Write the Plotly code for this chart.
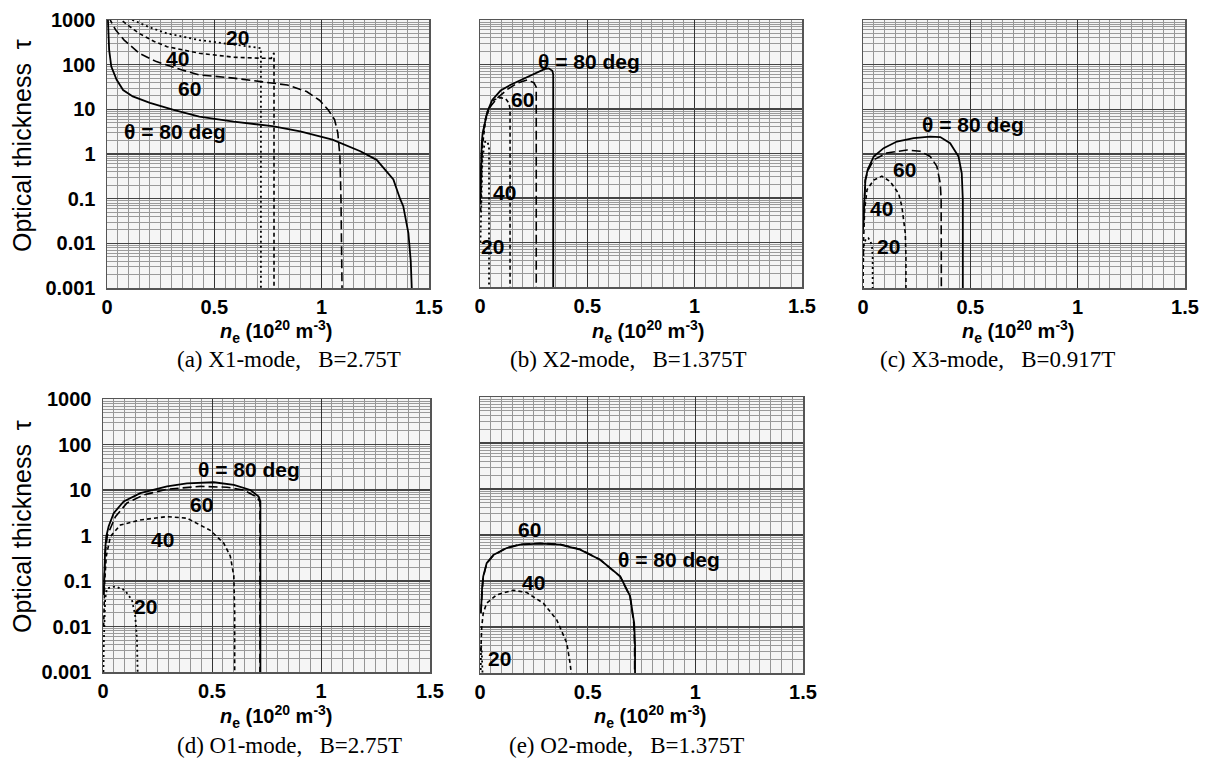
import math
import plotly.graph_objects as go

W, H = 1210, 760

# ---------------- data ----------------
# (a) X1-mode
a80_x = [0.003, 0.005, 0.01, 0.02, 0.045, 0.075, 0.12, 0.2, 0.31, 0.43, 0.59, 0.77, 0.9, 1.05, 1.18, 1.256, 1.334, 1.365, 1.38, 1.404, 1.415, 1.42]
a80_y = [1500, 1000, 215, 91, 46, 27, 19.5, 14, 9.7, 6.9, 5.3, 4.2, 3.2, 2.1, 1.15, 0.74, 0.27, 0.1, 0.068, 0.017, 0.004, 0.0009]
a60_x = [0.012, 0.015, 0.04, 0.08, 0.15, 0.23, 0.35, 0.43, 0.59, 0.74, 0.84, 0.93, 0.99, 1.03, 1.06, 1.075, 1.085, 1.09, 1.095]
a60_y = [1300, 1000, 600, 355, 180, 117, 76, 59, 50, 40, 35, 25, 16, 9.8, 5.9, 3.0, 0.9, 0.095, 0.0009]
a40_x = [0.06, 0.067, 0.1, 0.15, 0.22, 0.28, 0.43, 0.59, 0.7, 0.765, 0.778, 0.778]
a40_y = [1300, 1000, 750, 500, 330, 253, 180, 147, 140, 138, 185, 0.0009]
a20_x = [0.11, 0.12, 0.2, 0.28, 0.43, 0.59, 0.68, 0.712, 0.717, 0.717]
a20_y = [1300, 1000, 680, 500, 355, 277, 245, 235, 235, 0.0009]

# (b) X2-mode
b80_x = [0.0, 0.003, 0.005, 0.008, 0.012, 0.019, 0.034, 0.057, 0.096, 0.143, 0.22, 0.267, 0.3, 0.32, 0.337, 0.341, 0.341]
b80_y = [0.077, 0.3, 0.8, 1.7, 2.8, 4.1, 8.7, 16, 26, 35, 52, 66, 79, 82, 72, 60, 0.0009]
b60_x = [0.002, 0.005, 0.008, 0.015, 0.025, 0.042, 0.08, 0.127, 0.174, 0.22, 0.251, 0.262, 0.262]
b60_y = [0.1, 0.5, 1.2, 3.0, 6.0, 10.5, 17.5, 27.5, 38, 45, 39, 31, 0.0009]
b40_x = [0.003, 0.006, 0.011, 0.026, 0.042, 0.065, 0.096, 0.12, 0.135, 0.14, 0.14]
b40_y = [0.05, 0.3, 1.4, 5.7, 10, 16, 18, 17, 13.5, 10, 0.0009]
b20_x = [0.002, 0.005, 0.011, 0.022, 0.034, 0.042, 0.042]
b20_y = [0.01, 0.09, 0.72, 1.8, 1.9, 1.4, 0.0009]

# (c) X3-mode
c80_x = [0.0, 0.005, 0.011, 0.022, 0.05, 0.096, 0.158, 0.236, 0.313, 0.36, 0.406, 0.445, 0.46, 0.465, 0.465]
c80_y = [0.02, 0.08, 0.26, 0.45, 0.88, 1.35, 1.9, 2.26, 2.45, 2.4, 1.74, 0.88, 0.37, 0.095, 0.0009]
c60_x = [0.002, 0.011, 0.025, 0.05, 0.11, 0.205, 0.267, 0.313, 0.344, 0.36, 0.364, 0.365]
c60_y = [0.03, 0.26, 0.45, 0.74, 1.05, 1.23, 1.15, 0.88, 0.53, 0.22, 0.095, 0.0009]
c40_x = [0.0, 0.002, 0.008, 0.019, 0.05, 0.088, 0.127, 0.166, 0.181, 0.197, 0.2, 0.2]
c40_y = [0.0009, 0.01, 0.06, 0.16, 0.26, 0.32, 0.24, 0.13, 0.067, 0.017, 0.005, 0.0009]
c20_x = [0.001, 0.005, 0.015, 0.025, 0.035, 0.042, 0.045, 0.045]
c20_y = [0.004, 0.01, 0.013, 0.013, 0.011, 0.0085, 0.005, 0.0009]

# (d) O1-mode
d80_x = [0.003, 0.005, 0.01, 0.015, 0.026, 0.049, 0.095, 0.171, 0.294, 0.385, 0.508, 0.6, 0.676, 0.714, 0.722, 0.722]
d80_y = [0.05, 0.1, 0.5, 0.95, 1.6, 3.1, 5.6, 8.5, 12, 14, 14.8, 13, 10, 7.2, 5.6, 0.0009]
d60_x = [0.004, 0.01, 0.02, 0.057, 0.11, 0.187, 0.294, 0.447, 0.569, 0.645, 0.706, 0.72, 0.72]
d60_y = [0.05, 0.4, 1.0, 2.6, 5.2, 7.8, 10.4, 12, 11.5, 10, 7, 5.5, 0.0009]
d40_x = [0.003, 0.008, 0.015, 0.034, 0.08, 0.171, 0.294, 0.385, 0.492, 0.554, 0.584, 0.6, 0.604, 0.604]
d40_y = [0.01, 0.1, 0.35, 0.95, 1.7, 2.2, 2.6, 2.4, 1.3, 0.68, 0.35, 0.13, 0.02, 0.0009]
d20_x = [0.002, 0.004, 0.01, 0.018, 0.057, 0.1, 0.133, 0.148, 0.156, 0.159, 0.159]
d20_y = [0.001, 0.005, 0.04, 0.069, 0.076, 0.063, 0.038, 0.017, 0.005, 0.002, 0.0009]

# (e) O2-mode
e80_x = [0.003, 0.005, 0.01, 0.015, 0.031, 0.062, 0.124, 0.186, 0.279, 0.372, 0.465, 0.558, 0.651, 0.697, 0.716, 0.72, 0.72]
e80_y = [0.02, 0.024, 0.075, 0.126, 0.245, 0.37, 0.52, 0.62, 0.65, 0.62, 0.48, 0.29, 0.126, 0.047, 0.012, 0.004, 0.0009]
e60_x = [0.004, 0.01, 0.015, 0.031, 0.062, 0.124, 0.186, 0.279, 0.372, 0.465, 0.558, 0.651, 0.697, 0.714, 0.718, 0.718]
e60_y = [0.02, 0.07, 0.12, 0.24, 0.36, 0.53, 0.63, 0.66, 0.63, 0.49, 0.29, 0.125, 0.046, 0.012, 0.004, 0.0009]
e40_x = [0.004, 0.008, 0.015, 0.031, 0.077, 0.155, 0.217, 0.294, 0.356, 0.403, 0.418, 0.425]
e40_y = [0.003, 0.01, 0.02, 0.033, 0.05, 0.063, 0.056, 0.033, 0.0144, 0.0045, 0.00166, 0.0009]
e20_x = [0.003, 0.005, 0.008, 0.012]
e20_y = [0.0009, 0.004, 0.003, 0.0009]

x_tick_vals = [0, 0.5, 1, 1.5]
x_tick_text = ["0", "0.5", "1", "1.5"]
y_tick_vals = [0.001, 0.01, 0.1, 1, 10, 100, 1000]
y_tick_text = ["0.001", "0.01", "0.1", "1", "10", "100", "1000"]

captions = ["(a) X1-mode,   B=2.75T", "(b) X2-mode,   B=1.375T", "(c) X3-mode,   B=0.917T",
            "(d) O1-mode,   B=2.75T", "(e) O2-mode,   B=1.375T"]

# label texts and their data positions per panel
label_texts = ["20", "40", "60", "θ = 80 deg"]
lab_a_x = [0.607, 0.33, 0.386, 0.316]; lab_a_y = [410, 139, 29, 3.2]
lab_b_x = [0.057, 0.112, 0.197, 0.51];  lab_b_y = [0.0082, 0.135, 16.6, 116]
lab_c_x = [0.12, 0.088, 0.192, 0.514];  lab_c_y = [0.0085, 0.059, 0.46, 4.5]
lab_d_x = [0.194, 0.275, 0.454, 0.668]; lab_d_y = [0.028, 0.8, 4.7, 27.9]
lab_e_x = [0.09, 0.248, 0.232, 0.876];  lab_e_y = [0.0021, 0.091, 1.35, 0.29]

# ---------------- figure ----------------
panels = [
    dict(data=[(a20_x, a20_y), (a40_x, a40_y), (a60_x, a60_y), (a80_x, a80_y)], lx=lab_a_x, ly=lab_a_y,
         px=(107, 429), py=(20, 288), ylab=True, tx=276, ty=331, cx=289, cy=359),
    dict(data=[(b20_x, b20_y), (b40_x, b40_y), (b60_x, b60_y), (b80_x, b80_y)], lx=lab_b_x, ly=lab_b_y,
         px=(480, 802), py=(20, 287), ylab=False, tx=648, ty=331, cx=628, cy=359),
    dict(data=[(c20_x, c20_y), (c40_x, c40_y), (c60_x, c60_y), (c80_x, c80_y)], lx=lab_c_x, ly=lab_c_y,
         px=(863, 1185), py=(20, 288), ylab=False, tx=1018, ty=331, cx=997, cy=359),
    dict(data=[(d20_x, d20_y), (d40_x, d40_y), (d60_x, d60_y), (d80_x, d80_y)], lx=lab_d_x, ly=lab_d_y,
         px=(103, 430), py=(399, 672), ylab=True, tx=276, ty=716, cx=289, cy=745),
    dict(data=[(e20_x, e20_y), (e40_x, e40_y), (e60_x, e60_y), (e80_x, e80_y)], lx=lab_e_x, ly=lab_e_y,
         px=(480, 803), py=(397, 673), ylab=False, tx=650, ty=716, cx=626, cy=745),
]

dashes = ["2px,3px", "4px,3px", "9px,4px", "solid"]
widths = [1.8, 1.6, 1.6, 1.8]

SANS = "Liberation Sans, Arial, sans-serif"
SERIF = "Liberation Serif, Times New Roman, serif"

minor_y = []
for k in range(-3, 3):
    for m in range(2, 10):
        minor_y.append(m * 10 ** k)

fig = go.Figure()
annotations = []
layout = dict(width=W, height=H, margin=dict(l=0, r=0, t=0, b=0, pad=0, autoexpand=False),
              paper_bgcolor="white", plot_bgcolor="#f5f5f5", showlegend=False)

for i, p in enumerate(panels, start=1):
    xa = "x" if i == 1 else f"x{i}"
    ya = "y" if i == 1 else f"y{i}"
    for (xs, ys), dsh, w in zip(p["data"], dashes, widths):
        fig.add_trace(go.Scatter(x=xs, y=ys, mode="lines", xaxis=xa, yaxis=ya,
                                 line=dict(color="black", width=w, dash=dsh), hoverinfo="skip"))
    for t, lx, ly in zip(label_texts, p["lx"], p["ly"]):
        annotations.append(dict(x=lx, y=math.log10(ly), xref=xa, yref=ya, text=f"<b>{t}</b>",
                                showarrow=False, font=dict(family=SANS, size=21, color="black"),
                                xanchor="center", yanchor="middle"))
    xdom = [p["px"][0] / W, p["px"][1] / W]
    ydom = [1 - p["py"][1] / H, 1 - p["py"][0] / H]
    layout["xaxis" if i == 1 else f"xaxis{i}"] = dict(
        domain=xdom, range=[0, 1.5], anchor=ya, tickmode="array", tickvals=x_tick_vals, ticktext=x_tick_text,
        showgrid=True, gridcolor="#333333", gridwidth=1,
        minor=dict(dtick=0.05, tick0=0, showgrid=True, gridcolor="#959595", gridwidth=1),
        showline=True, mirror=True, linecolor="#555555", linewidth=1.5, zeroline=False, ticks="",
        automargin=False, fixedrange=True,
        tickfont=dict(family=SANS, size=20, color="black", weight="bold"), ticklabelstandoff=0)
    layout["yaxis" if i == 1 else f"yaxis{i}"] = dict(
        domain=ydom, type="log", range=[-3, 3], anchor=xa, tickmode="array", tickvals=y_tick_vals,
        ticktext=y_tick_text, showticklabels=p["ylab"],
        showgrid=True, gridcolor="#444444", gridwidth=1.6,
        minor=dict(tickmode="array", tickvals=minor_y, showgrid=True, gridcolor="#9a9a9a", gridwidth=1),
        showline=True, mirror=True, linecolor="#555555", linewidth=1.5, zeroline=False, ticks="",
        automargin=False, fixedrange=True,
        tickfont=dict(family=SANS, size=20, color="black", weight="bold"), ticklabelstandoff=6)
    # x-axis title
    annotations.append(dict(x=p["tx"] / W, y=1 - p["ty"] / H, xref="paper", yref="paper",
                            text="<b><i>n</i><sub>e</sub> (10<sup>20</sup> m<sup>-3</sup>)</b>",
                            showarrow=False, font=dict(family=SANS, size=20, color="black"),
                            xanchor="center", yanchor="middle"))
    # caption
    annotations.append(dict(x=p["cx"] / W, y=1 - p["cy"] / H, xref="paper", yref="paper",
                            text=captions[i - 1].replace(" ", "\u00a0"),
                            showarrow=False, font=dict(family=SERIF, size=23, color="black"),
                            xanchor="center", yanchor="middle"))

# y-axis titles
for yc in (146, 527):
    annotations.append(dict(x=22 / W, y=1 - yc / H, xref="paper", yref="paper",
                            text="Optical thickness\u00a0\u00a0τ", textangle=-90, showarrow=False,
                            font=dict(family=SANS, size=25, color="black"),
                            xanchor="center", yanchor="middle"))

layout["annotations"] = annotations
fig.update_layout(**layout)
fig.write_html("out.html", config={"displayModeBar": False, "staticPlot": True},
               post_script="document.body.style.margin='0px';document.body.style.padding='0px';"
                           "document.documentElement.style.overflow='hidden';")
